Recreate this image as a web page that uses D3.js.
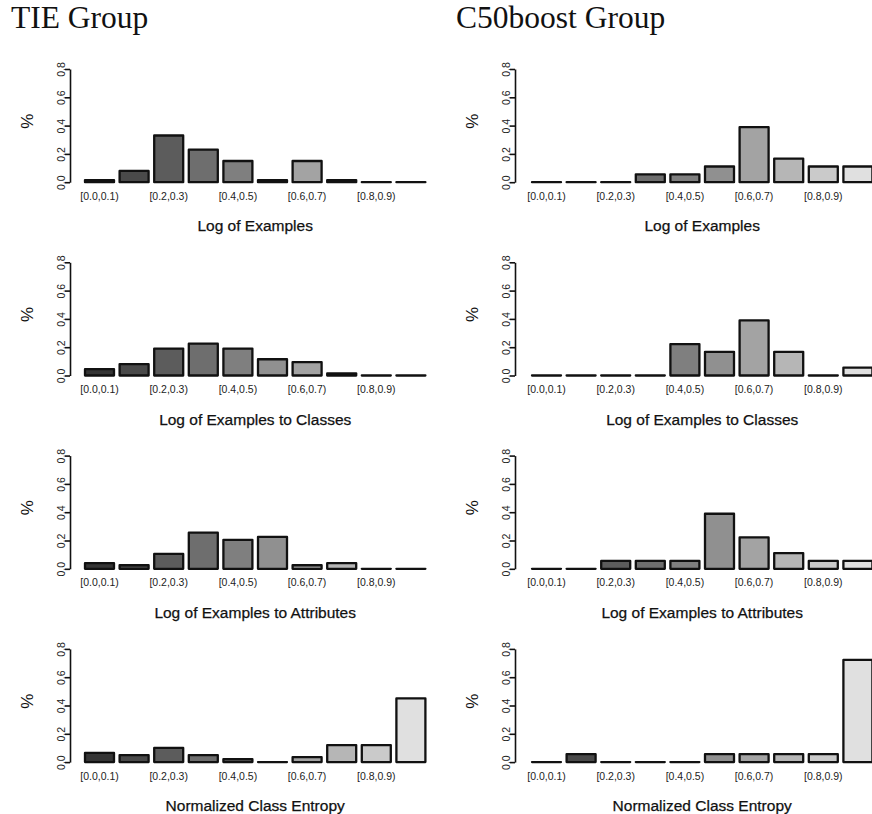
<!DOCTYPE html>
<html>
<head>
<meta charset="utf-8">
<script src="https://cdn.jsdelivr.net/npm/d3@7"></script>
<style>
  html, body { margin: 0; padding: 0; background: #fff; }
  svg { display: block; }
</style>
</head>
<body>
<svg id="chart" width="872" height="814"></svg>
<script>
// Histogram bins (normalized meta-feature value ranges)
const bins = ["[0.0,0.1)", "[0.1,0.2)", "[0.2,0.3)", "[0.3,0.4)", "[0.4,0.5)",
              "[0.5,0.6)", "[0.6,0.7)", "[0.7,0.8)", "[0.8,0.9)", "[0.9,1.0]"];
// Every other bin gets a printed label
const tickLabels = ["[0.0,0.1)", "[0.2,0.3)", "[0.4,0.5)", "[0.6,0.7)", "[0.8,0.9)"];
const yTicks = [0, 0.2, 0.4, 0.6, 0.8];

const groups = ["TIE Group", "C50boost Group"];
const features = ["Log of Examples", "Log of Examples to Classes",
                  "Log of Examples to Attributes", "Normalized Class Entropy"];

// Share of datasets falling in each bin
const tieLogExamples   = [0.015, 0.08, 0.33, 0.23, 0.15, 0.015, 0.15, 0.015, 0, 0];
const tieLogExClasses  = [0.045, 0.08, 0.19, 0.225, 0.19, 0.115, 0.095, 0.015, 0, 0];
const tieLogExAttrs    = [0.04, 0.025, 0.105, 0.255, 0.205, 0.225, 0.025, 0.04, 0, 0];
const tieEntropy       = [0.065, 0.05, 0.10, 0.05, 0.02, 0, 0.035, 0.12, 0.12, 0.45];

const c50LogExamples   = [0, 0, 0, 0.056, 0.056, 0.111, 0.389, 0.167, 0.111, 0.111];
const c50LogExClasses  = [0, 0, 0, 0, 0.222, 0.167, 0.389, 0.167, 0, 0.056];
const c50LogExAttrs    = [0, 0, 0.056, 0.056, 0.056, 0.389, 0.222, 0.111, 0.056, 0.056];
const c50Entropy       = [0, 0.056, 0, 0, 0, 0.056, 0.056, 0.056, 0.056, 0.722];

// Grey ramp, dark to light across bins
const greys = ["#353535", "#4a4a4a", "#5c5c5c", "#6e6e6e", "#7f7f7f",
               "#909090", "#a3a3a3", "#b6b6b6", "#cacaca", "#e0e0e0"];

const panels = [
  [tieLogExamples, tieLogExClasses, tieLogExAttrs, tieEntropy],
  [c50LogExamples, c50LogExClasses, c50LogExAttrs, c50Entropy]
];

const svg = d3.select("#chart");
const sans = "'Liberation Sans', Arial, Helvetica, sans-serif";

const colAxisX = [70, 515];
const colBarStart = [85, 532];
const step = 34.6, barW = 29;
const rowTop0 = 69, rowPitch = 193.3, plotH = 113.2;

const color = d3.scaleOrdinal().domain(bins).range(greys);

// Column headings
groups.forEach((g, c) => {
  svg.append("text")
    .attr("x", c === 0 ? 11 : 456)
    .attr("y", 28)
    .attr("font-family", "'Liberation Serif', 'Times New Roman', serif")
    .attr("font-size", 31.5)
    .attr("fill", "#111")
    .text(g);
});

panels.forEach((col, c) => {
  col.forEach((values, r) => {
    const top = rowTop0 + r * rowPitch;
    const zero = top + plotH;
    const axisX = colAxisX[c];
    const x0 = colBarStart[c];
    const rangeEnd = x0 + bins.length * step - (step - barW);

    const x = d3.scaleBand().domain(bins).range([x0, rangeEnd])
      .paddingInner((step - barW) / step).paddingOuter(0);
    const y = d3.scaleLinear().domain([0, 0.8]).range([zero, top]);

    const g = svg.append("g");

    // Bars: drawn as closed paths so empty bins still show their outline
    g.selectAll("path.bar")
      .data(values.map((v, i) => ({ bin: bins[i], v })))
      .join("path")
      .attr("class", "bar")
      .attr("d", d => {
        const bx = x(d.bin), bw = x.bandwidth();
        const yt = y(d.v), yb = y(0);
        return `M${bx},${yb}L${bx + bw},${yb}L${bx + bw},${yt}L${bx},${yt}Z`;
      })
      .attr("fill", d => color(d.bin))
      .attr("stroke", "#111")
      .attr("stroke-width", 2.3)
      .attr("stroke-linejoin", "round");

    // Y axis with rotated tick labels
    const yAxis = g.append("g")
      .attr("transform", `translate(${axisX},0)`)
      .call(d3.axisLeft(y).tickValues(yTicks).tickSize(5).tickSizeOuter(0)
        .tickFormat(d3.format(".1f")));
    yAxis.select(".domain").attr("stroke", "#111").attr("stroke-width", 1.6);
    yAxis.selectAll(".tick line").attr("stroke", "#111").attr("stroke-width", 1.6);
    yAxis.selectAll(".tick text")
      .attr("transform", "rotate(-90)")
      .attr("x", 0).attr("y", -5.5).attr("dy", 0)
      .attr("text-anchor", "middle")
      .attr("font-family", sans)
      .attr("font-size", 10.5)
      .attr("fill", "#222");

    // X axis: labels only on alternating bins
    const xAxis = g.append("g")
      .attr("transform", `translate(0,${zero})`)
      .call(d3.axisBottom(x).tickValues(tickLabels).tickSize(0).tickPadding(10));
    xAxis.select(".domain").remove();
    xAxis.selectAll(".tick text")
      .attr("font-family", sans)
      .attr("font-size", 10.5)
      .attr("fill", "#222");

    // Axis titles
    g.append("text")
      .attr("transform", `translate(${axisX - 37},${zero - 61}) rotate(-90)`)
      .attr("text-anchor", "middle")
      .attr("font-family", sans)
      .attr("font-size", 17)
      .attr("fill", "#111")
      .text("%");

    g.append("text")
      .attr("x", (x0 + rangeEnd) / 2)
      .attr("y", zero + 49)
      .attr("text-anchor", "middle")
      .attr("font-family", sans)
      .attr("font-size", 15.5)
      .attr("fill", "#111")
      .attr("stroke", "#111")
      .attr("stroke-width", 0.25)
      .text(features[r]);
  });
});
</script>
</body>
</html>
